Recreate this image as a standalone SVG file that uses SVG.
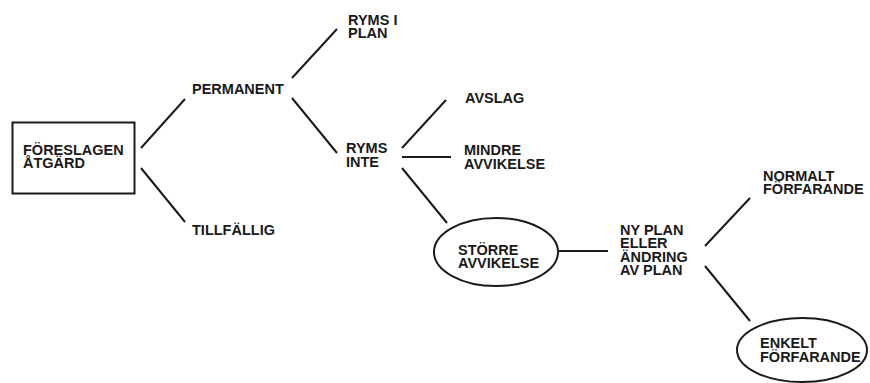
<svg xmlns="http://www.w3.org/2000/svg" width="870" height="383" viewBox="0 0 870 383">
<style>
text{font-family:"Liberation Sans",Arial,sans-serif;font-weight:bold;font-size:14.5px;fill:#1a1a1a}
.s{fill:none;stroke:#1a1a1a;stroke-width:2}
</style>
<rect width="870" height="383" fill="#fff"/>
<g id="connectors" class="s">
<line x1="141" y1="148" x2="185" y2="99"/>
<line x1="141" y1="168" x2="185" y2="222"/>
<line x1="292" y1="78" x2="337" y2="29"/>
<line x1="292" y1="98" x2="337" y2="153"/>
<line x1="402" y1="148" x2="446" y2="100"/>
<line x1="402" y1="157" x2="451" y2="157"/>
<line x1="402" y1="168" x2="447" y2="223"/>
<line x1="559" y1="251" x2="608" y2="251"/>
<line x1="705" y1="246" x2="750" y2="198"/>
<line x1="705" y1="266" x2="750" y2="321"/>
</g>
<g id="foreslagen">
<rect class="s" x="12.5" y="122.5" width="122" height="71"/>
<text x="23" y="155">FÖRESLAGEN</text>
<text x="23" y="168">ÅTGÄRD</text>
</g>
<g id="permanent"><text x="192" y="94">PERMANENT</text></g>
<g id="tillfallig"><text x="192" y="235">TILLFÄLLIG</text></g>
<g id="ryms-i-plan"><text x="348" y="25">RYMS I</text><text x="348" y="38">PLAN</text></g>
<g id="ryms-inte"><text x="346" y="153">RYMS</text><text x="346" y="167">INTE</text></g>
<g id="avslag"><text x="465" y="103">AVSLAG</text></g>
<g id="mindre"><text x="464" y="155">MINDRE</text><text x="464" y="169">AVVIKELSE</text></g>
<g id="storre">
<ellipse class="s" cx="496" cy="252" rx="62" ry="34"/>
<text x="458" y="255">STÖRRE</text><text x="458" y="268">AVVIKELSE</text>
</g>
<g id="nyplan">
<text x="620" y="235">NY PLAN</text><text x="620" y="248">ELLER</text><text x="620" y="262">ÄNDRING</text><text x="620" y="275">AV PLAN</text>
</g>
<g id="normalt"><text x="763" y="181">NORMALT</text><text x="763" y="194">FÖRFARANDE</text></g>
<g id="enkelt">
<ellipse class="s" cx="802" cy="350" rx="65" ry="32"/>
<text x="760" y="348">ENKELT</text><text x="760" y="362">FÖRFARANDE</text>
</g>
</svg>
